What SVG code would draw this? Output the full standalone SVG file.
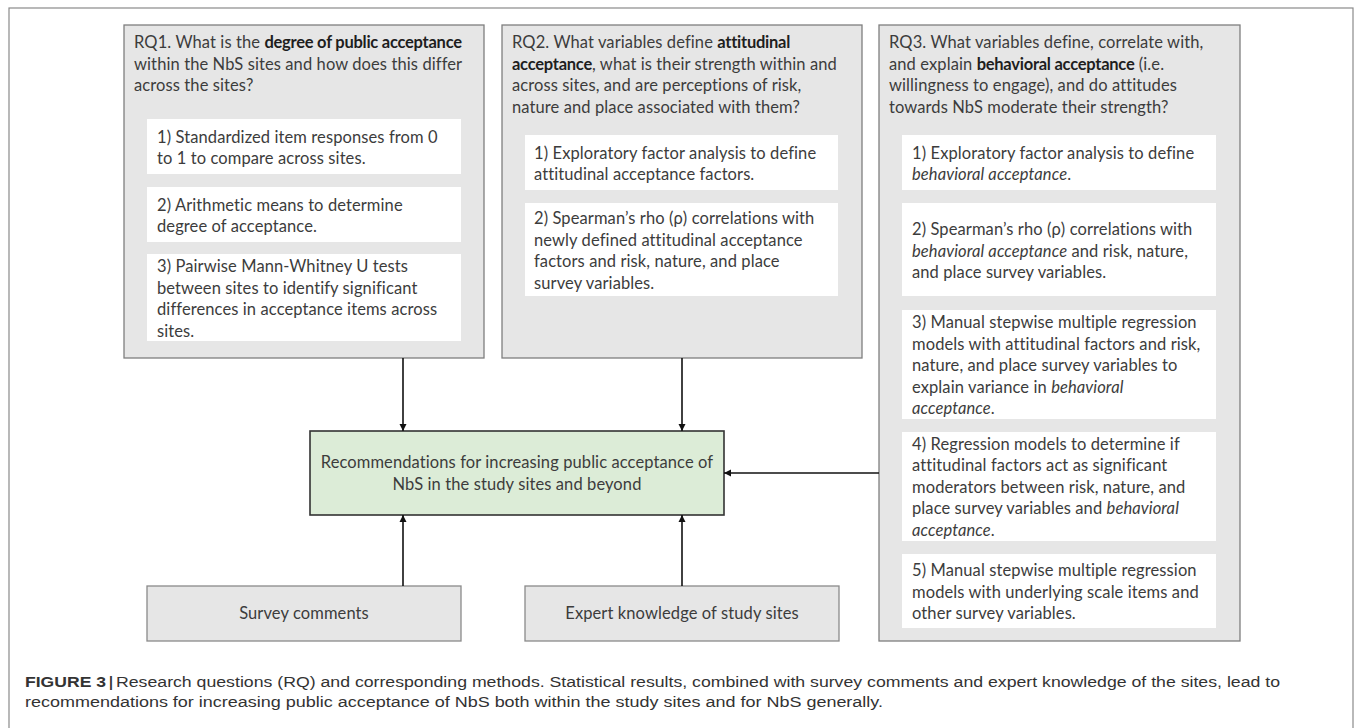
<svg xmlns="http://www.w3.org/2000/svg" width="1355" height="728" viewBox="0 0 1355 728">
<style>
.frame{fill:none;stroke:#8a8a8a;stroke-width:1.2}
.rq{fill:#e6e6e6;stroke:#7f7f7f;stroke-width:1.3}
.sub{fill:#ffffff;stroke:none}
.green{fill:#dcecd7;stroke:#333;stroke-width:1.6}
.src{fill:#e6e6e6;stroke:#8a8a8a;stroke-width:1.3}
.t{font-family:Lato,"Liberation Sans",sans-serif;font-size:16.5px;letter-spacing:0.1px;fill:#3c3c3c}
.b{font-weight:bold;fill:#1e1e1e;letter-spacing:-0.25px}
.i{font-style:italic}
.c{text-anchor:middle}
.cap{font-family:"Liberation Sans",Arial,sans-serif;font-size:14px;fill:#333}
.conn{stroke:#111;stroke-width:1.6;fill:none;marker-end:url(#ah)}
</style>
<defs>
<marker id="ah" viewBox="0 0 10 10" refX="10" refY="5" markerWidth="4.5" markerHeight="4.5" orient="auto" markerUnits="strokeWidth">
<path d="M0,0 L10,5 L0,10 z" fill="#111"/>
</marker>
</defs>
<rect class="frame" x="9" y="8" width="1344" height="740"/>

<g id="rq1">
<rect class="rq" x="124" y="25" width="360" height="333"/>
<text class="t" x="134" y="48">RQ1. What is the <tspan class="b">degree of public acceptance</tspan></text>
<text class="t" x="134" y="69.5">within the NbS sites and how does this differ</text>
<text class="t" x="134" y="91">across the sites?</text>
<rect class="sub" x="147" y="119" width="314" height="55"/>
<text class="t" x="157" y="143">1) Standardized item responses from 0</text>
<text class="t" x="157" y="164">to 1 to compare across sites.</text>
<rect class="sub" x="147" y="187" width="314" height="55"/>
<text class="t" x="157" y="211">2) Arithmetic means to determine</text>
<text class="t" x="157" y="232">degree of acceptance.</text>
<rect class="sub" x="147" y="254" width="314" height="87"/>
<text class="t" x="157" y="272">3) Pairwise Mann-Whitney U tests</text>
<text class="t" x="157" y="293.5">between sites to identify significant</text>
<text class="t" x="157" y="315">differences in acceptance items across</text>
<text class="t" x="157" y="336.5">sites.</text>
</g>

<g id="rq2">
<rect class="rq" x="502" y="25" width="360" height="333"/>
<text class="t" x="512" y="48">RQ2. What variables define <tspan class="b">attitudinal</tspan></text>
<text class="t" x="512" y="69.5"><tspan class="b">acceptance</tspan>, what is their strength within and</text>
<text class="t" x="512" y="91">across sites, and are perceptions of risk,</text>
<text class="t" x="512" y="112.5">nature and place associated with them?</text>
<rect class="sub" x="525" y="135" width="313" height="55"/>
<text class="t" x="534" y="159">1) Exploratory factor analysis to define</text>
<text class="t" x="534" y="180">attitudinal acceptance factors.</text>
<rect class="sub" x="525" y="203" width="313" height="93"/>
<text class="t" x="534" y="224">2) Spearman’s rho (ρ) correlations with</text>
<text class="t" x="534" y="245.5">newly defined attitudinal acceptance</text>
<text class="t" x="534" y="267">factors and risk, nature, and place</text>
<text class="t" x="534" y="288.5">survey variables.</text>
</g>

<g id="rq3">
<rect class="rq" x="879" y="25" width="361" height="616"/>
<text class="t" x="889" y="48">RQ3. What variables define, correlate with,</text>
<text class="t" x="889" y="69.5">and explain <tspan class="b">behavioral acceptance</tspan> (i.e.</text>
<text class="t" x="889" y="91">willingness to engage), and do attitudes</text>
<text class="t" x="889" y="112.5">towards NbS moderate their strength?</text>
<rect class="sub" x="902" y="135" width="314" height="55"/>
<text class="t" x="912" y="159">1) Exploratory factor analysis to define</text>
<text class="t" x="912" y="180"><tspan class="i">behavioral acceptance</tspan>.</text>
<rect class="sub" x="902" y="203" width="314" height="93"/>
<text class="t" x="912" y="235">2) Spearman’s rho (ρ) correlations with</text>
<text class="t" x="912" y="256.5"><tspan class="i">behavioral acceptance</tspan> and risk, nature,</text>
<text class="t" x="912" y="278">and place survey variables.</text>
<rect class="sub" x="902" y="310" width="314" height="109"/>
<text class="t" x="912" y="328">3) Manual stepwise multiple regression</text>
<text class="t" x="912" y="349.5">models with attitudinal factors and risk,</text>
<text class="t" x="912" y="371">nature, and place survey variables to</text>
<text class="t" x="912" y="392.5">explain variance in <tspan class="i">behavioral</tspan></text>
<text class="t" x="912" y="414"><tspan class="i">acceptance</tspan>.</text>
<rect class="sub" x="902" y="432" width="314" height="109"/>
<text class="t" x="912" y="449.5">4) Regression models to determine if</text>
<text class="t" x="912" y="471">attitudinal factors act as significant</text>
<text class="t" x="912" y="492.5">moderators between risk, nature, and</text>
<text class="t" x="912" y="514">place survey variables and <tspan class="i">behavioral</tspan></text>
<text class="t" x="912" y="535.5"><tspan class="i">acceptance</tspan>.</text>
<rect class="sub" x="902" y="554" width="314" height="74"/>
<text class="t" x="912" y="576">5) Manual stepwise multiple regression</text>
<text class="t" x="912" y="597.5">models with underlying scale items and</text>
<text class="t" x="912" y="619">other survey variables.</text>
</g>

<g id="recommendations">
<rect class="green" x="310" y="431" width="414" height="84"/>
<text class="t c" x="517" y="468">Recommendations for increasing public acceptance of</text>
<text class="t c" x="517" y="490">NbS in the study sites and beyond</text>
</g>

<g id="survey-comments">
<rect class="src" x="147" y="586" width="314" height="55"/>
<text class="t c" x="304" y="619">Survey comments</text>
</g>

<g id="expert-knowledge">
<rect class="src" x="525" y="586" width="314" height="55"/>
<text class="t c" x="682" y="619">Expert knowledge of study sites</text>
</g>

<g id="connectors">
<line class="conn" x1="403" y1="358" x2="403" y2="431"/>
<line class="conn" x1="682" y1="358" x2="682" y2="431"/>
<line class="conn" x1="403" y1="586" x2="403" y2="515"/>
<line class="conn" x1="682" y1="586" x2="682" y2="515"/>
<line class="conn" x1="879" y1="473" x2="724" y2="473"/>
</g>

<g id="caption">
<text class="cap" x="25" y="687" font-weight="bold" fill="#111" textLength="81" lengthAdjust="spacingAndGlyphs">FIGURE 3</text>
<text class="cap" x="109" y="687" font-weight="bold" fill="#111">|</text>
<text class="cap" x="116" y="687" textLength="1164" lengthAdjust="spacingAndGlyphs">Research questions (RQ) and corresponding methods. Statistical results, combined with survey comments and expert knowledge of the sites, lead to</text>
<text class="cap" x="25" y="707" textLength="858" lengthAdjust="spacingAndGlyphs">recommendations for increasing public acceptance of NbS both within the study sites and for NbS generally.</text>
</g>
</svg>
